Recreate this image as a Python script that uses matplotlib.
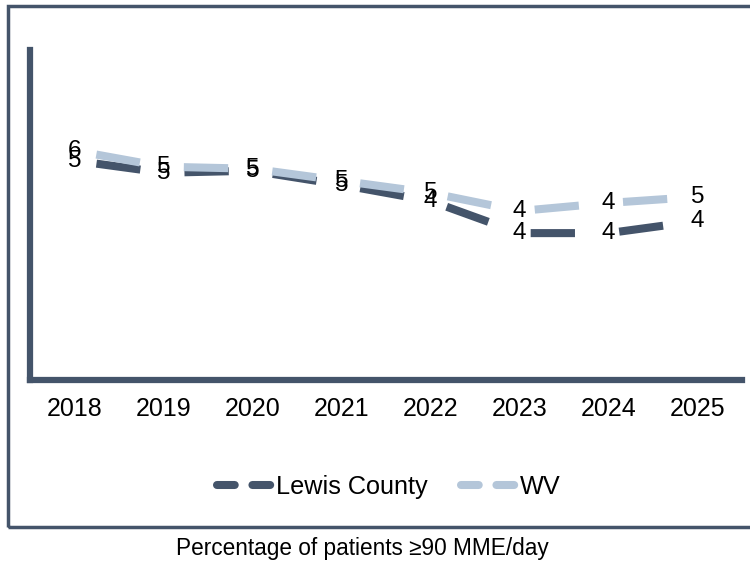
import matplotlib
matplotlib.use('Agg')
import matplotlib.pyplot as plt
from matplotlib.patches import Rectangle
from matplotlib.lines import Line2D

years = ['2018', '2019', '2020', '2021', '2022', '2023', '2024', '2025']
lewis = [5.45, 5.15, 5.2, 4.85, 4.45, 3.65, 3.65, 3.95]
wv = [5.7, 5.3, 5.25, 4.95, 4.65, 4.2, 4.4, 4.55]

dark = '#44546A'
light = '#B4C6D9'

plt.rcParams['font.family'] = ['Liberation Sans', 'DejaVu Sans']

fig = plt.figure(figsize=(7.5, 5.61), dpi=100)

# outer frame of the chart area
fig.patches.append(Rectangle((8 / 750, 1 - 527 / 561), 760 / 750, 521 / 561,
                             transform=fig.transFigure, fill=False,
                             edgecolor=dark, linewidth=2.5, zorder=0))

ax = fig.add_axes([30 / 750, 1 - 380 / 561, 712 / 750, 330 / 561])
x = list(range(len(years)))
lw = 5.8
dash = (8.25, (5.5, 5.5))
ax.plot(x, lewis, color=dark, lw=lw, linestyle=dash, dash_capstyle='butt')
ax.plot(x, wv, color=light, lw=lw, linestyle=dash, dash_capstyle='butt')

for xi, v in zip(x, lewis):
    ax.text(xi, v, f'{v:.0f}', ha='center', va='center', fontsize=17.5)
for xi, v in zip(x, wv):
    ax.text(xi, v, f'{v:.0f}', ha='center', va='center', fontsize=17.5)

ax.set_xlim(-0.5, 7.5)
ax.set_ylim(0, 8.2)
ax.set_xticks(x)
ax.set_xticklabels(years, fontsize=18)
ax.tick_params(axis='x', length=0, pad=12)
ax.set_yticks([])
for s in ['top', 'right']:
    ax.spines[s].set_visible(False)
for s in ['left', 'bottom']:
    ax.spines[s].set_color(dark)
    ax.spines[s].set_linewidth(4.5)

handles = [Line2D([], [], color=dark, lw=lw, linestyle=(0, (2.2, 2.2)), dash_capstyle='round'),
           Line2D([], [], color=light, lw=lw, linestyle=(0, (2.2, 2.2)), dash_capstyle='round')]
fig.legend(handles, ['Lewis County', 'WV'], loc='center', bbox_to_anchor=(389 / 750, 1 - 487 / 561),
           ncol=2, frameon=False, fontsize=18.2, handlelength=2.3, handletextpad=0.05,
           columnspacing=1.3)

fig.text(362 / 750, 1 - 549 / 561, 'Percentage of patients \u226590 MME/day',
         ha='center', va='center', fontsize=16.3)

fig.savefig('out.png', dpi=100)
